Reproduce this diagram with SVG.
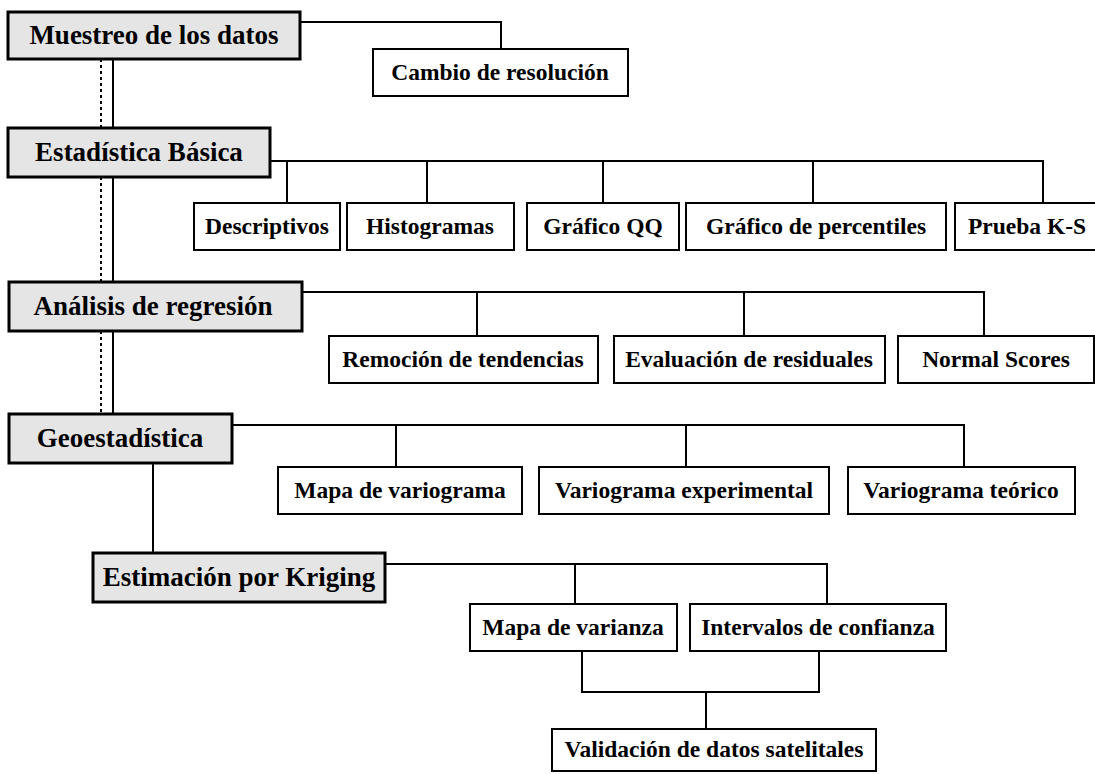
<svg xmlns="http://www.w3.org/2000/svg" width="1095" height="774" viewBox="0 0 1095 774">
<style>
.root rect{fill:#e5e5e5;stroke:#000;stroke-width:3}
.child rect{fill:#fff;stroke:#000;stroke-width:2}
text{font-family:"Liberation Serif","Times New Roman",serif;font-weight:bold;fill:#000;text-anchor:middle}
.root text{font-size:27px}
.child text{font-size:23.5px}
.conn path{fill:none;stroke:#000;stroke-width:2}
.conn .dot{stroke-dasharray:3 3}
</style>
<rect width="1095" height="774" fill="#fff"/>
<g id="connectors" class="conn">
<path class="dot" d="M101,59V128M101,177V282M101,331V414"/>
<path d="M113,59V128M113,177V282M113,331V414"/>
<path d="M300,22H501V49"/>
<path d="M270,161H1043V203M287,161V203M427,161V203M603,161V203M813,161V203"/>
<path d="M302,292H984V336M477,292V336M744,292V336"/>
<path d="M232,425H964V467M396,425V467M686,425V467"/>
<path d="M153,463V553"/>
<path d="M385,564H827V604M575,564V604"/>
<path d="M582,651V692H819V651M706,692V729"/>
</g>
<g id="muestreo" class="root"><rect x="8" y="12" width="292" height="47"/><text x="154" y="44">Muestreo de los datos</text></g>
<g id="cambio" class="child"><rect x="373" y="49" width="255" height="47"/><text x="500" y="80">Cambio de resolución</text></g>
<g id="estadistica" class="root"><rect x="8" y="128" width="262" height="49"/><text x="139" y="161">Estadística Básica</text></g>
<g id="descriptivos" class="child"><rect x="194" y="203" width="146" height="47"/><text x="267" y="234">Descriptivos</text></g>
<g id="histogramas" class="child"><rect x="347" y="203" width="167" height="47"/><text x="430" y="234">Histogramas</text></g>
<g id="qq" class="child"><rect x="527" y="203" width="152" height="47"/><text x="603" y="234">Gráfico QQ</text></g>
<g id="percentiles" class="child"><rect x="686" y="203" width="260" height="47"/><text x="816" y="234">Gráfico de percentiles</text></g>
<g id="ks" class="child"><rect x="955" y="203" width="145" height="47"/><text x="1027" y="234">Prueba K-S</text></g>
<g id="regresion" class="root"><rect x="9" y="282" width="293" height="49"/><text x="153" y="315">Análisis de regresión</text></g>
<g id="remocion" class="child"><rect x="329" y="336" width="269" height="47"/><text x="463" y="367">Remoción de tendencias</text></g>
<g id="residuales" class="child"><rect x="614" y="336" width="271" height="47"/><text x="749" y="367">Evaluación de residuales</text></g>
<g id="normal" class="child"><rect x="898" y="336" width="196" height="47"/><text x="996" y="367">Normal Scores</text></g>
<g id="geo" class="root"><rect x="9" y="414" width="223" height="49"/><text x="120" y="447">Geoestadística</text></g>
<g id="mapavario" class="child"><rect x="278" y="467" width="244" height="47"/><text x="400" y="498">Mapa de variograma</text></g>
<g id="varexp" class="child"><rect x="539" y="467" width="290" height="47"/><text x="684" y="498">Variograma experimental</text></g>
<g id="varteo" class="child"><rect x="848" y="467" width="227" height="47"/><text x="961" y="498">Variograma teórico</text></g>
<g id="kriging" class="root"><rect x="93" y="553" width="292" height="49"/><text x="239" y="586">Estimación por Kriging</text></g>
<g id="varianza" class="child"><rect x="470" y="604" width="207" height="47"/><text x="573" y="635">Mapa de varianza</text></g>
<g id="intervalos" class="child"><rect x="690" y="604" width="256" height="47"/><text x="818" y="635">Intervalos de confianza</text></g>
<g id="validacion" class="child"><rect x="552" y="729" width="324" height="42"/><text x="714" y="757">Validación de datos satelitales</text></g>
</svg>
